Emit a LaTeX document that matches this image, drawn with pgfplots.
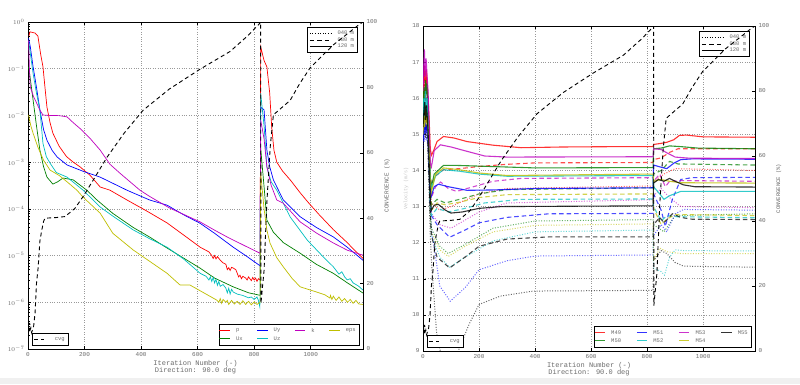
\documentclass[border=0pt]{standalone}
\usepackage{fontspec}
\setmainfont{Liberation Mono}
\usepackage{pgfplots}
\usepackage{pgfplotstable}
\pgfplotsset{compat=1.18}
\definecolor{mred}{rgb}{1,0,0}
\definecolor{mgreen}{rgb}{0,0.5,0}
\definecolor{mblue}{rgb}{0,0,1}
\definecolor{mcyan}{rgb}{0,0.75,0.75}
\definecolor{mmag}{rgb}{0.75,0,0.75}
\definecolor{myel}{rgb}{0.75,0.75,0}
\definecolor{tgray}{gray}{0.42}
\newcommand{\lgt}[1]{\textcolor{tgray}{#1}}
\newcommand{\li}[3]{\tikz[baseline=-0.55ex]\draw[draw=#1, line width=#2] (0pt,0pt) -- (10.5pt,0pt);\hspace{5.5pt}\lgt{#3}}

\pgfplotstableread{
it cv
0 10
2 7
4 5.5
6 8
8 6
10 6.5
13 5
16 6
20 7
25 11
30 20
36 25
42 33
48 36
55 39
60 40
100 40.2
131 40.5
166 43
198 47
240 53
280 58.7
340 66
407 73
500 79.5
609 85.6
715 91
780 96
821 99.7
823 100
824 14
835 24
845 45
857 62
868 71.6
900 74
927 76
960 81
998 86
1080 93
1168 99
1185 100
}\cvgtable

\pgfplotsset{
  common/.style={
    scale only axis, xmin=0, xmax=1185,
    tick align=inside,
    axis line style={line width=0.8pt},
    tick style={line width=0.5pt, black},
    major tick length=3pt, minor tick length=1.6pt,
    tick label style={font=\fontsize{6}{7}\selectfont, text=tgray},
    /pgf/number format/assume math mode=true,
    /pgf/number format/set thousands separator={},
    no markers,
    legend cell align=left,
    legend style={line width=0.9pt, fill=white,
      font=\fontsize{5.5}{6}\selectfont,
      inner sep=1.5pt, row sep=-1pt,
      /tikz/every odd column/.append style={column sep=3pt}},
    legend image code/.code={\draw[#1] (0pt,0pt) -- (10pt,0pt);},
  },
  hleg/.style={
    legend image code/.code={\draw[#1] (0pt,0pt) -- (22pt,0pt);},
    legend style={row sep=-2.5pt},
  },
  mleg/.style={
    legend image code/.code={},
    legend columns=4,
    legend style={/tikz/every odd column/.append style={column sep=-4pt},
      /tikz/every even column/.append style={column sep=#1}},
  },
  s120/.style={line width=1.1pt, opacity=0.8},
  s080/.style={line width=1.1pt, dash pattern=on 4.5pt off 3pt, opacity=0.7},
  s040/.style={line width=1pt, dash pattern=on 1pt off 1.6pt, opacity=0.6},
}

\begin{document}
\begin{tikzpicture}
\path[use as bounding box] (0pt,0pt) rectangle (800pt,384pt);
\fill[white] (0pt,0pt) rectangle (800pt,384pt);
\fill[black!6] (0pt,0pt) rectangle (800pt,6pt);

%================ LEFT PANEL: residuals =================
\begin{axis}[common, mleg=14pt,
  at={(28pt,35pt)}, anchor=south west, width=335pt, height=327pt,
  ymode=log, ymin=1e-7, ymax=1,
  xtick={0,200,...,1000}, ytick pos=left,
  grid=major, major grid style={dotted, gray!80, line width=0.6pt},
  xlabel={Iteration Number (-)\\Direction: 90.0 deg},
  xlabel style={align=center, font=\fontsize{7}{7.4}\selectfont, text=tgray, yshift=3pt},
  legend style={at={(0.99,0.01)}, anchor=south east},
]
\addlegendimage{empty legend}\addlegendentry{\li{mred}{1.1pt}{p}}
\addlegendimage{empty legend}\addlegendentry{\li{mblue}{1.1pt}{Uy}}
\addlegendimage{empty legend}\addlegendentry{\li{mmag}{1.1pt}{k}}
\addlegendimage{empty legend}\addlegendentry{\li{myel}{1.1pt}{eps}}
\addlegendimage{empty legend}\addlegendentry{\li{mgreen}{1.1pt}{Ux}}
\addlegendimage{empty legend}\addlegendentry{\li{mcyan}{1.1pt}{Uz}}
% p
\addplot[mred, line width=0.7pt, forget plot] coordinates {
(3,0.5)(7,0.617)(15,0.6)(25,0.58)(35,0.5)(45,0.2)(53,0.11)(60,0.04)(67,0.0151)(78,0.007)(88,0.00417)(110,0.0022)(136,0.00132)(160,0.001)(184,0.000794)(220,0.00052)(255,0.000295)(290,0.000251)(350,0.000155)(420,9e-5)(492,5.0e-5)(560,2.5e-5)(609,1.51e-5)(640,1.2e-5)(650,1.0e-5)(655,8.7e-6)(660,1.0e-5)(665,8.5e-6)(670,9.5e-6)(680,8.0e-6)(690,7.0e-6)(700,6.5e-6)(705,5.0e-6)(710,5.5e-6)(715,4.8e-6)(720,5.6e-6)(726,5.4e-6)(735,5.0e-6)(740,4.2e-6)(745,3.5e-6)(750,3.8e-6)(755,3.2e-6)(760,3.6e-6)(770,3.3e-6)(775,3.0e-6)(780,3.5e-6)(790,2.9e-6)(795,3.4e-6)(800,3.0e-6)(805,3.3e-6)(810,2.8e-6)(815,3.2e-6)(821,3.0e-6)(823,0.295)(835,0.15)(845,0.1096)(855,0.03)(862,0.00562)(870,0.0018)(880,0.001)(900,0.00065)(930,0.0004)(963,0.00022)(990,0.00014)(1030,7.5e-5)(1080,3.6e-5)(1129,1.9e-5)(1150,1.4e-5)(1185,8.7e-6)
};
% Ux
\addplot[mgreen, line width=0.7pt, forget plot] coordinates {
(2,0.11)(10,0.05)(18,0.0214)(30,0.006)(42,0.00182)(55,0.0008)(67,0.000479)(88,0.000339)(105,0.00038)(124,0.000457)(160,0.000417)(208,0.000251)(244,0.000155)(300,8e-5)(372,4e-5)(430,2.5e-5)(492,1.45e-5)(609,5.37e-6)(660,3.3e-6)(726,2.14e-6)(780,1.6e-6)(821,1.41e-6)(823,0.002)(835,0.0003)(845,5.75e-5)(868,3.16e-5)(903,1.9e-5)(963,1.12e-5)(1020,6.5e-6)(1080,4.17e-6)(1130,2.6e-6)(1185,1.58e-6)
};
% Uy
\addplot[mblue, line width=0.7pt, forget plot] coordinates {
(2,0.45)(8,0.3)(18,0.11)(30,0.04)(42,0.0132)(55,0.005)(67,0.00295)(85,0.0018)(103,0.00129)(138,0.000871)(200,0.00062)(255,0.000479)(350,0.000251)(430,0.000155)(492,0.00012)(550,7.5e-5)(609,4.9e-5)(660,3e-5)(726,1.51e-5)(770,1e-5)(821,6.03e-6)(823,0.015)(835,0.0132)(845,0.00182)(855,0.0008)(868,0.000417)(903,0.000155)(963,6.76e-5)(1020,4e-5)(1080,2.51e-5)(1130,1.5e-5)(1185,7.94e-6)
};
% Uz
\addplot[mcyan, line width=0.7pt, forget plot] coordinates {
(2,0.4)(18,0.0794)(30,0.03)(42,0.0132)(53,0.00251)(65,0.0013)(78,0.000955)(100,0.0006)(138,0.000479)(195,0.000251)(255,0.00011)(300,7e-5)(372,3.55e-5)(430,2.3e-5)(492,1.51e-5)(550,8.5e-6)(609,4.17e-6)(630,3.6e-6)(640,3.0e-6)(645,3.5e-6)(650,2.8e-6)(655,3.4e-6)(660,2.6e-6)(665,3.1e-6)(670,2.3e-6)(675,2.8e-6)(680,2.2e-6)(690,2.4e-6)(700,2.0e-6)(705,1.6e-6)(710,2.0e-6)(715,1.5e-6)(720,1.9e-6)(726,1.66e-6)(740,1.5e-6)(760,1.4e-6)(780,1.25e-6)(790,1.3e-6)(800,1.15e-6)(810,1.3e-6)(815,1.1e-6)(820,0.8e-6)(821,1.2e-6)(823,0.03)(835,0.006)(845,0.000794)(860,0.00038)(880,0.000251)(927,6.76e-5)(988,2.14e-5)(1040,1e-5)(1080,5.75e-6)(1100,4e-6)(1110,4.5e-6)(1120,3.5e-6)(1129,3.02e-6)(1140,3.2e-6)(1150,2.6e-6)(1160,2.4e-6)(1170,2.2e-6)(1185,1.82e-6)
};
% k
\addplot[mmag, line width=0.7pt, forget plot] coordinates {
(2,0.4)(5,0.1)(8,0.0407)(20,0.025)(31,0.0182)(42,0.013)(53,0.0102)(78,0.01)(110,0.0099)(138,0.00933)(160,0.007)(184,0.00525)(220,0.0032)(255,0.00182)(290,0.0009)(326,0.000575)(396,0.000251)(432,0.000182)(500,0.000105)(609,5.25e-5)(660,3.5e-5)(704,2.51e-5)(760,1.7e-5)(821,1.12e-5)(823,0.008)(835,0.00316)(845,0.000794)(860,0.00032)(880,0.000155)(903,0.000132)(963,5.25e-5)(1021,3.02e-5)(1080,1.86e-5)(1130,1.3e-5)(1185,1.02e-5)
};
% eps
\addplot[myel, line width=0.7pt, forget plot] coordinates {
(2,0.0102)(10,0.006)(18,0.00417)(35,0.00209)(55,0.0011)(78,0.000676)(110,0.00052)(138,0.00038)(173,0.000251)(195,0.000178)(255,8.13e-5)(300,3.0e-5)(372,1.32e-5)(492,4.17e-6)(538,2.34e-6)(573,2.34e-6)(667,1.12e-6)(675,1.0e-6)(680,1.2e-6)(685,0.95e-6)(690,1.15e-6)(700,1.0e-6)(705,1.1e-6)(710,0.9e-6)(720,1.1e-6)(730,0.92e-6)(740,1.05e-6)(750,0.9e-6)(760,1.08e-6)(770,0.9e-6)(780,1.05e-6)(790,0.88e-6)(800,1.02e-6)(810,0.9e-6)(821,1.0e-6)(823,0.0006)(835,0.0001)(845,3.5e-5)(856,1.86e-5)(880,9e-6)(903,5.75e-6)(935,3.2e-6)(963,2.14e-6)(990,1.9e-6)(1021,1.66e-6)(1050,1.45e-6)(1068,1.23e-6)(1070,1.4e-6)(1075,1.15e-6)(1080,1.35e-6)(1090,1.1e-6)(1100,1.3e-6)(1110,1.05e-6)(1120,1.2e-6)(1130,1.0e-6)(1140,1.15e-6)(1150,0.95e-6)(1160,1.1e-6)(1170,0.92e-6)(1185,0.9e-6)
};
\end{axis}

% height legend (left)
\begin{axis}[common, hleg, hide axis,
  at={(28pt,35pt)}, anchor=south west, width=335pt, height=327pt,
  ymin=0, ymax=1,
  legend style={at={(0.985,0.985)}, anchor=north east},
]
\addlegendimage{draw=black, line width=1pt, dash pattern=on 1pt off 1.6pt}\addlegendentry{\lgt{040 m}}
\addlegendimage{draw=black, line width=1.1pt, dash pattern=on 4.5pt off 3pt}\addlegendentry{\lgt{080 m}}
\addlegendimage{draw=black, line width=1.3pt}\addlegendentry{\lgt{120 m}}
\end{axis}

% convergence (left)
\begin{axis}[common,
  at={(28pt,35pt)}, anchor=south west, width=335pt, height=327pt,
  axis x line=none, axis y line*=right,
  ymin=0, ymax=100, ytick={0,20,...,100},
  ylabel={CONVERGENCE (\%)},
  ylabel style={font=\fontsize{6}{7}\selectfont, text=tgray},
  legend style={at={(0.012,0.01)}, anchor=south west,
    /tikz/every odd column/.append style={column sep=8pt}},
  legend image code/.code={\draw[#1] (0pt,0pt) -- (10pt,0pt);},
]
\addplot[black, line width=0.9pt, dash pattern=on 4pt off 3pt] table[x=it, y=cv] {\cvgtable};
\addlegendentry{\lgt{cvg}}
\end{axis}

%================ RIGHT PANEL: probes =================
\begin{axis}[common, mleg=15pt,
  at={(423pt,33pt)}, anchor=south west, width=332pt, height=325pt,
  ymin=9, ymax=18, ytick={9,10,...,18},
  xtick={0,200,...,1000}, ytick pos=left,
  grid=major, major grid style={dotted, gray!80, line width=0.6pt},
  xlabel={Iteration Number (-)\\Direction: 90.0 deg},
  xlabel style={align=center, font=\fontsize{7}{7.4}\selectfont, text=tgray, yshift=3pt},
  ylabel={Velocity (m/s)},
  ylabel style={font=\fontsize{5}{6}\selectfont, text=gray!45, yshift=-3pt},
  legend style={at={(0.99,0.01)}, anchor=south east},
]
\addlegendimage{empty legend}\addlegendentry{\li{mred!80}{1.3pt}{M49}}
\addlegendimage{empty legend}\addlegendentry{\li{mblue!80}{1.3pt}{M51}}
\addlegendimage{empty legend}\addlegendentry{\li{mmag!80}{1.3pt}{M53}}
\addlegendimage{empty legend}\addlegendentry{\li{black!80}{1.3pt}{M55}}
\addlegendimage{empty legend}\addlegendentry{\li{mgreen!80}{1.3pt}{M50}}
\addlegendimage{empty legend}\addlegendentry{\li{mcyan!80}{1.3pt}{M52}}
\addlegendimage{empty legend}\addlegendentry{\li{myel!80}{1.3pt}{M54}}
% ---- 040 m (dotted)
\addplot[mred, s040, forget plot] coordinates {(0,15.7)(3,16.2)(6,16.5)(9,16.0)(12,16.4)(15,16.0)(18,15.6)(22,14.7)(26,13.6)(30,13.1)(60,12.9)(100,13.0)(200,13.35)(300,13.5)(821,13.57)(823,13.7)(860,13.9)(900,14.05)(1185,14.0)};
\addplot[mgreen, s040, forget plot] coordinates {(0,15.0)(3,15.5)(6,15.2)(9,15.7)(12,15.3)(15,15.5)(18,15.0)(22,14.0)(26,12.9)(30,12.4)(60,11.9)(90,11.7)(150,11.95)(250,12.4)(400,12.6)(821,12.64)(823,12.5)(860,12.3)(900,12.75)(1185,12.8)};
\addplot[mblue, s040, forget plot] coordinates {(0,14.6)(3,15.0)(6,14.8)(9,15.2)(12,14.9)(15,15.0)(18,14.6)(22,13.8)(26,12.9)(30,12.4)(60,10.8)(97,10.38)(150,10.75)(200,11.25)(300,11.5)(400,11.63)(821,11.66)(823,12.2)(850,12.5)(870,12.3)(900,12.8)(930,12.92)(1185,12.9)};
\addplot[mcyan, s040, forget plot] coordinates {(0,15.1)(3,15.6)(6,15.3)(9,15.8)(12,15.4)(15,15.6)(18,15.1)(22,14.0)(26,12.8)(30,12.2)(60,11.6)(95,11.32)(150,11.6)(250,12.05)(400,12.3)(821,12.35)(823,11.3)(850,11.2)(862,11.1)(880,11.6)(900,11.8)(930,11.78)(1185,11.77)};
\addplot[mmag, s040, forget plot] coordinates {(0,15.8)(3,16.3)(6,16.7)(9,16.1)(12,16.5)(15,16.1)(18,15.6)(22,14.6)(26,13.4)(30,12.8)(60,12.5)(100,12.4)(200,12.85)(300,13.1)(821,13.19)(823,13.3)(850,13.5)(880,13.25)(920,13.0)(1185,12.97)};
\addplot[myel, s040, forget plot] coordinates {(0,14.8)(3,15.3)(6,15.0)(9,15.5)(12,15.1)(15,15.3)(18,14.8)(22,13.8)(26,12.8)(30,12.3)(60,11.8)(90,11.62)(150,11.9)(250,12.3)(400,12.48)(821,12.52)(823,11.5)(845,11.85)(870,11.75)(920,11.7)(1185,11.7)};
\addplot[black, s040, forget plot] coordinates {(0,14.7)(3,15.0)(6,15.3)(9,14.9)(12,15.2)(15,14.9)(18,14.4)(22,13.3)(26,12.2)(30,11.5)(40,10.4)(49,9.46)(70,8.7)(100,8.5)(133,9.14)(165,9.75)(200,10.29)(276,10.52)(394,10.66)(821,10.68)(823,11.5)(850,11.78)(870,11.7)(900,11.45)(930,11.35)(1185,11.32)};
% ---- 080 m (dashed)
\addplot[mred, s080, forget plot] coordinates {(0,15.5)(3,16.0)(6,16.4)(9,15.9)(12,16.3)(15,15.9)(18,15.5)(22,14.8)(26,13.9)(30,13.6)(45,13.85)(73,14.02)(130,14.05)(200,14.11)(300,14.17)(400,14.21)(821,14.22)(823,14.3)(850,14.35)(880,14.5)(910,14.6)(1185,14.6)};
\addplot[mgreen, s080, forget plot] coordinates {(0,15.3)(3,15.8)(6,15.5)(9,16.0)(12,15.6)(15,15.8)(18,15.3)(22,14.4)(26,13.4)(30,13.05)(50,13.2)(80,13.1)(130,13.2)(200,13.35)(300,13.47)(821,13.52)(823,13.9)(850,14.0)(880,14.25)(910,14.18)(1185,14.15)};
\addplot[mblue, s080, forget plot] coordinates {(0,14.9)(3,15.3)(6,15.1)(9,15.5)(12,15.2)(15,15.3)(18,14.9)(22,14.0)(26,13.1)(30,12.75)(50,12.5)(95,12.15)(150,12.35)(200,12.55)(300,12.7)(450,12.8)(821,12.81)(823,13.35)(850,12.9)(865,12.45)(890,13.2)(920,13.75)(960,13.8)(1185,13.81)};
\addplot[mcyan, s080, forget plot] coordinates {(0,15.2)(3,15.7)(6,15.4)(9,15.9)(12,15.5)(15,15.7)(18,15.2)(22,14.2)(26,13.1)(30,12.75)(50,12.95)(90,12.85)(150,12.95)(220,13.1)(350,13.2)(821,13.21)(823,13.0)(850,12.6)(870,12.75)(900,12.72)(1185,12.69)};
\addplot[mmag, s080, forget plot] coordinates {(0,16.0)(3,16.5)(6,16.9)(9,16.2)(12,16.6)(15,16.2)(18,15.7)(22,14.7)(26,13.6)(30,13.25)(45,13.55)(63,13.68)(90,13.5)(120,13.42)(180,13.55)(250,13.7)(350,13.78)(821,13.8)(823,13.7)(845,13.9)(865,13.55)(880,13.7)(920,13.72)(1185,13.7)};
\addplot[myel, s080, forget plot] coordinates {(0,14.9)(3,15.4)(6,15.1)(9,15.6)(12,15.2)(15,15.4)(18,15.0)(22,14.2)(26,13.3)(30,12.9)(50,13.1)(80,13.05)(130,13.12)(200,13.25)(300,13.33)(821,13.35)(823,12.95)(850,12.5)(870,12.65)(900,12.78)(1185,12.75)};
\addplot[black, s080, forget plot] coordinates {(0,14.9)(3,15.3)(6,15.6)(9,15.1)(12,15.5)(15,15.2)(18,14.7)(22,13.8)(26,12.8)(30,12.2)(50,11.6)(95,11.3)(150,11.6)(200,11.9)(300,12.1)(450,12.16)(821,12.16)(823,12.5)(845,12.7)(860,12.55)(890,12.8)(920,12.7)(960,12.65)(1185,12.64)};
% ---- 120 m (solid)
\addplot[mred, s120, forget plot] coordinates {(0,15.9)(3,16.6)(6,16.9)(9,16.3)(12,16.8)(15,16.4)(18,16.0)(22,15.4)(26,14.6)(30,14.42)(38,14.55)(50,14.8)(73,14.94)(110,14.9)(157,14.8)(250,14.7)(350,14.63)(500,14.65)(700,14.66)(821,14.66)(823,14.72)(850,14.75)(870,14.78)(895,14.85)(915,14.97)(940,14.98)(1000,14.93)(1185,14.92)};
\addplot[mgreen, s120, forget plot] coordinates {(0,15.6)(3,16.3)(6,16.0)(9,16.5)(12,16.1)(15,16.4)(18,15.8)(22,14.8)(26,13.8)(30,13.55)(40,13.9)(73,14.14)(120,14.14)(200,14.12)(400,14.07)(821,14.08)(823,14.6)(850,14.62)(880,14.68)(920,14.66)(980,14.62)(1185,14.6)};
\addplot[mblue, s120, forget plot] coordinates {(0,14.8)(3,15.2)(6,15.0)(9,15.4)(12,15.1)(15,15.2)(18,14.9)(22,14.3)(26,13.5)(30,13.3)(40,13.55)(55,13.62)(90,13.55)(157,13.45)(250,13.46)(400,13.5)(821,13.52)(823,14.15)(845,14.1)(870,14.05)(895,14.2)(920,14.3)(960,14.32)(1185,14.31)};
\addplot[mcyan, s120, forget plot] coordinates {(0,15.4)(3,16.0)(6,15.7)(9,16.2)(12,15.8)(15,16.0)(18,15.5)(22,14.7)(26,13.8)(30,13.5)(45,13.85)(73,14.02)(130,13.98)(200,13.9)(300,13.84)(821,13.86)(823,13.55)(845,13.35)(860,13.2)(880,13.3)(920,13.42)(1185,13.42)};
\addplot[mmag, s120, forget plot] coordinates {(0,16.2)(3,17.0)(5,17.35)(8,16.6)(11,17.1)(14,16.7)(18,16.2)(22,15.2)(26,14.2)(30,14.1)(40,14.55)(62,14.71)(100,14.65)(157,14.53)(220,14.4)(300,14.37)(821,14.38)(823,14.6)(850,14.58)(870,14.49)(900,14.37)(950,14.34)(1185,14.33)};
\addplot[myel, s120, forget plot] coordinates {(0,15.0)(3,15.5)(6,15.2)(9,15.7)(12,15.3)(15,15.5)(18,15.1)(22,14.5)(26,13.7)(30,13.4)(45,13.9)(73,14.07)(130,14.02)(200,13.93)(300,13.86)(821,13.9)(823,13.7)(850,13.75)(880,13.7)(920,13.66)(1185,13.65)};
\addplot[black, s120, forget plot] coordinates {(0,15.2)(3,15.6)(6,15.9)(9,15.4)(12,15.8)(15,15.5)(18,15.1)(22,14.2)(26,13.2)(30,12.9)(40,13.04)(55,13.06)(80,12.9)(100,12.82)(140,12.85)(200,12.95)(280,13.0)(821,13.02)(823,13.65)(840,13.75)(860,13.7)(880,13.78)(900,13.7)(930,13.6)(970,13.55)(1185,13.54)};
\end{axis}

% height legend (right)
\begin{axis}[common, hleg, hide axis,
  at={(423pt,33pt)}, anchor=south west, width=332pt, height=325pt,
  ymin=0, ymax=1,
  legend style={at={(0.985,0.985)}, anchor=north east},
]
\addlegendimage{draw=black, line width=1pt, dash pattern=on 1pt off 1.6pt}\addlegendentry{\lgt{040 m}}
\addlegendimage{draw=black, line width=1.1pt, dash pattern=on 4.5pt off 3pt}\addlegendentry{\lgt{080 m}}
\addlegendimage{draw=black, line width=1.3pt}\addlegendentry{\lgt{120 m}}
\end{axis}

% convergence (right)
\begin{axis}[common,
  at={(423pt,33pt)}, anchor=south west, width=332pt, height=325pt,
  axis x line=none, axis y line*=right,
  ymin=0, ymax=100, ytick={0,20,...,100},
  ylabel={CONVERGENCE (\%)},
  ylabel style={font=\fontsize{5.5}{6}\selectfont, text=tgray},
  legend style={at={(0.012,0.01)}, anchor=south west,
    /tikz/every odd column/.append style={column sep=8pt}},
  legend image code/.code={\draw[#1] (0pt,0pt) -- (10pt,0pt);},
]
\addplot[black, line width=0.9pt, dash pattern=on 4pt off 3pt] table[x=it, y=cv] {\cvgtable};
\addlegendentry{\lgt{cvg}}
\end{axis}
\end{tikzpicture}
\end{document}
